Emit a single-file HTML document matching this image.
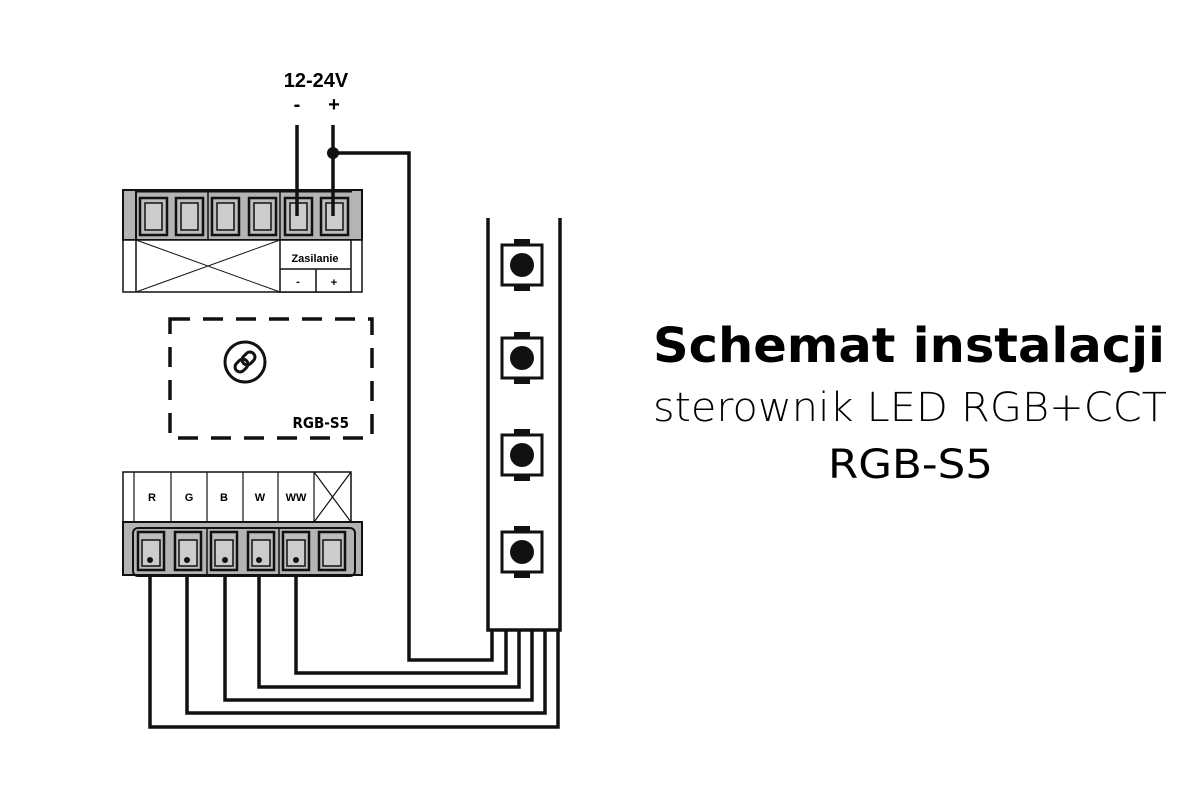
<!DOCTYPE html>
<html><head><meta charset="utf-8"><style>html,body{margin:0;padding:0;background:#fff}svg{display:block}</style></head>
<body>
<svg width="1200" height="800" viewBox="0 0 1200 800" xmlns="http://www.w3.org/2000/svg">
<rect width="1200" height="800" fill="#fff"/>
<g font-family="Liberation Sans, Arial, sans-serif">
<!-- power label -->
<text x="316" y="87" font-size="20" font-weight="bold" text-anchor="middle">12-24V</text>
<text x="297" y="111" font-size="20" font-weight="bold" text-anchor="middle">-</text>
<text x="334" y="111" font-size="20" font-weight="bold" text-anchor="middle">+</text>

<!-- top block -->
<rect x="123" y="190" width="239" height="50" fill="#b4b4b4" stroke="#111" stroke-width="2"/>
<line x1="136" y1="190" x2="136" y2="240" stroke="#111" stroke-width="2"/>
<line x1="136" y1="191" x2="352" y2="191" stroke="#111" stroke-width="3"/>
<line x1="208" y1="191" x2="208" y2="240" stroke="#111" stroke-width="1.5"/>
<line x1="280" y1="191" x2="280" y2="240" stroke="#111" stroke-width="1.5"/>
<g stroke="#111" fill="#bdbdbd">
<rect x="140" y="198" width="27" height="37" stroke-width="2.5"/><rect x="145" y="203" width="17" height="27" stroke-width="1.5" fill="#ccc"/>
<rect x="176" y="198" width="27" height="37" stroke-width="2.5"/><rect x="181" y="203" width="17" height="27" stroke-width="1.5" fill="#ccc"/>
<rect x="212" y="198" width="27" height="37" stroke-width="2.5"/><rect x="217" y="203" width="17" height="27" stroke-width="1.5" fill="#ccc"/>
<rect x="249" y="198" width="27" height="37" stroke-width="2.5"/><rect x="254" y="203" width="17" height="27" stroke-width="1.5" fill="#ccc"/>
<rect x="285" y="198" width="27" height="37" stroke-width="2.5"/><rect x="290" y="203" width="17" height="27" stroke-width="1.5" fill="#ccc"/>
<rect x="321" y="198" width="27" height="37" stroke-width="2.5"/><rect x="326" y="203" width="17" height="27" stroke-width="1.5" fill="#ccc"/>
</g>
<!-- top white panel -->
<rect x="123" y="240" width="239" height="52" fill="#fff" stroke="#111" stroke-width="1.5"/>
<line x1="136" y1="240" x2="136" y2="292" stroke="#111" stroke-width="1.5"/>
<line x1="136" y1="240" x2="280" y2="292" stroke="#111" stroke-width="1"/>
<line x1="136" y1="292" x2="280" y2="240" stroke="#111" stroke-width="1"/>
<rect x="280" y="240" width="71" height="52" fill="#fff" stroke="#111" stroke-width="1.5"/>
<line x1="280" y1="269" x2="351" y2="269" stroke="#111" stroke-width="1.5"/>
<line x1="316" y1="269" x2="316" y2="292" stroke="#111" stroke-width="1.5"/>
<text x="315" y="262" font-size="11" font-weight="bold" text-anchor="middle">Zasilanie</text>
<text x="298" y="285" font-size="11" font-weight="bold" text-anchor="middle">-</text>
<text x="334" y="286" font-size="11" font-weight="bold" text-anchor="middle">+</text>

<!-- power wires -->
<g stroke="#111" stroke-width="3.5" fill="none">
<line x1="297" y1="125" x2="297" y2="216"/>
<line x1="333" y1="125" x2="333" y2="216"/>
<polyline points="333,153 409,153 409,660 492,660 492,630"/>
<polyline points="150,560 150,727 558,727 558,630"/>
<polyline points="187,560 187,713 545,713 545,630"/>
<polyline points="225,560 225,700 532,700 532,630"/>
<polyline points="259,560 259,687 519,687 519,630"/>
<polyline points="296,560 296,673 506,673 506,630"/>
</g>
<circle cx="333" cy="153" r="6" fill="#111"/>

<!-- dashed module -->
<rect x="170" y="319" width="202" height="119" fill="none" stroke="#111" stroke-width="3.5" stroke-dasharray="20,13"/>
<circle cx="245" cy="362" r="20" fill="none" stroke="#111" stroke-width="3"/>
<g transform="rotate(-45 245 362)" fill="none" stroke="#111" stroke-width="3">
<rect x="233" y="357" width="14" height="10" rx="5"/><rect x="243" y="357" width="14" height="10" rx="5"/>
</g>
<text x="349" y="428" font-size="15" font-weight="bold" text-anchor="end" font-family="DejaVu Sans Condensed, Liberation Sans Narrow, sans-serif">RGB-S5</text>

<!-- bottom label panel -->
<rect x="123" y="472" width="228" height="50" fill="#fff" stroke="#111" stroke-width="1.5"/>
<g stroke="#111" stroke-width="1.2">
<line x1="134" y1="472" x2="134" y2="522"/><line x1="171" y1="472" x2="171" y2="522"/>
<line x1="207" y1="472" x2="207" y2="522"/><line x1="243" y1="472" x2="243" y2="522"/>
<line x1="278" y1="472" x2="278" y2="522"/><line x1="314" y1="472" x2="314" y2="522"/>
<line x1="314" y1="472" x2="351" y2="522"/><line x1="314" y1="522" x2="351" y2="472"/>
</g>
<g font-size="11" font-weight="bold" text-anchor="middle">
<text x="152" y="501">R</text><text x="189" y="501">G</text><text x="224" y="501">B</text><text x="260" y="501">W</text><text x="296" y="501">WW</text>
</g>
<!-- bottom block -->
<rect x="123" y="522" width="239" height="53" fill="#b4b4b4" stroke="#111" stroke-width="2"/>
<rect x="133" y="528" width="222" height="48" rx="5" fill="none" stroke="#111" stroke-width="2"/>
<line x1="207" y1="528" x2="207" y2="575" stroke="#111" stroke-width="1.5"/>
<line x1="279" y1="528" x2="279" y2="575" stroke="#111" stroke-width="1.5"/>
<g stroke="#111" fill="#bdbdbd">
<rect x="138" y="532" width="26" height="38" stroke-width="2.5"/><rect x="142" y="540" width="18" height="26" stroke-width="1.5" fill="#ccc"/>
<rect x="175" y="532" width="26" height="38" stroke-width="2.5"/><rect x="179" y="540" width="18" height="26" stroke-width="1.5" fill="#ccc"/>
<rect x="211" y="532" width="26" height="38" stroke-width="2.5"/><rect x="215" y="540" width="18" height="26" stroke-width="1.5" fill="#ccc"/>
<rect x="248" y="532" width="26" height="38" stroke-width="2.5"/><rect x="252" y="540" width="18" height="26" stroke-width="1.5" fill="#ccc"/>
<rect x="283" y="532" width="26" height="38" stroke-width="2.5"/><rect x="287" y="540" width="18" height="26" stroke-width="1.5" fill="#ccc"/>
<rect x="319" y="532" width="26" height="38" stroke-width="2.5"/><rect x="323" y="540" width="18" height="26" stroke-width="1.5" fill="#ccc"/>
</g>
<circle cx="150" cy="560" r="3" fill="#111"/><circle cx="187" cy="560" r="3" fill="#111"/><circle cx="225" cy="560" r="3" fill="#111"/><circle cx="259" cy="560" r="3" fill="#111"/><circle cx="296" cy="560" r="3" fill="#111"/>

<!-- LED strip -->
<polyline points="488,218 488,630 560,630 560,218" fill="none" stroke="#111" stroke-width="3.5"/>
<g fill="#111">
<g transform="translate(522,265)"><rect x="-8" y="-26" width="16" height="8"/><rect x="-8" y="18" width="16" height="8"/><rect x="-20" y="-20" width="40" height="40" fill="#fff" stroke="#111" stroke-width="3"/><circle r="12"/></g>
<g transform="translate(522,358)"><rect x="-8" y="-26" width="16" height="8"/><rect x="-8" y="18" width="16" height="8"/><rect x="-20" y="-20" width="40" height="40" fill="#fff" stroke="#111" stroke-width="3"/><circle r="12"/></g>
<g transform="translate(522,455)"><rect x="-8" y="-26" width="16" height="8"/><rect x="-8" y="18" width="16" height="8"/><rect x="-20" y="-20" width="40" height="40" fill="#fff" stroke="#111" stroke-width="3"/><circle r="12"/></g>
<g transform="translate(522,552)"><rect x="-8" y="-26" width="16" height="8"/><rect x="-8" y="18" width="16" height="8"/><rect x="-20" y="-20" width="40" height="40" fill="#fff" stroke="#111" stroke-width="3"/><circle r="12"/></g>
</g>

<!-- title -->
<text x="653" y="362" font-size="48" font-weight="bold" textLength="512" lengthAdjust="spacingAndGlyphs" font-family="DejaVu Sans, Liberation Sans, sans-serif">Schemat instalacji</text>
<text x="653" y="421" font-size="40" textLength="514" lengthAdjust="spacingAndGlyphs" font-family="DejaVu Sans, Liberation Sans, sans-serif" font-weight="200">sterownik LED RGB+CCT</text>
<text x="828" y="478" font-size="40" textLength="165" lengthAdjust="spacingAndGlyphs" font-family="DejaVu Sans, Liberation Sans, sans-serif">RGB-S5</text>
</g>
</svg>
</body></html>
